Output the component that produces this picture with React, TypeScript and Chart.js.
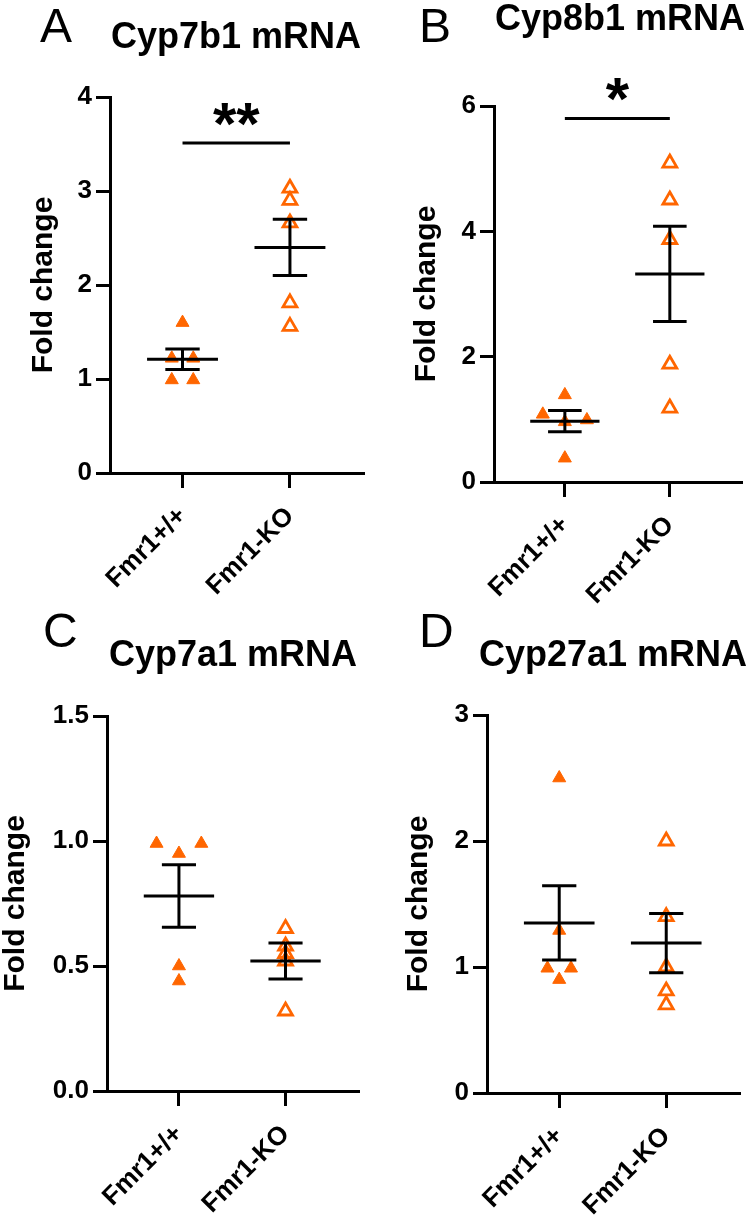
import React, { useEffect, useRef } from 'react';
import { Chart, registerables } from 'chart.js';

Chart.register(...registerables);

const FONT = "'Liberation Sans', Arial, Helvetica, sans-serif";
const ORANGE = '#FF6600';

// ---------- data ----------
const groups = ['Fmr1+/+', 'Fmr1-KO'];
const yAxisLabel = 'Fold change';
const panelLetters = ['A', 'B', 'C', 'D'];
const panelTitles = ['Cyp7b1 mRNA', 'Cyp8b1 mRNA', 'Cyp7a1 mRNA', 'Cyp27a1 mRNA'];

// A: Cyp7b1
const cyp7b1WT = [1.6, 1.22, 1.22, 0.99, 0.99];
const cyp7b1WTJitter = [0, -0.1, 0.1, -0.1, 0.1];
const cyp7b1KO = [3.03, 2.9, 2.66, 1.81, 1.56];
const cyp7b1Mean = [1.21, 2.4];
const cyp7b1Sem = [0.11, 0.3];

// B: Cyp8b1
const cyp8b1WT = [1.39, 1.08, 0.99, 0.96, 0.38];
const cyp8b1WTJitter = [0, -0.21, 0.21, 0, 0];
const cyp8b1KO = [5.09, 4.5, 3.87, 1.88, 1.18];
const cyp8b1Mean = [0.97, 3.32];
const cyp8b1Sem = [0.17, 0.76];

// C: Cyp7a1
const cyp7a1WT = [0.99, 0.95, 0.99, 0.5, 0.44];
const cyp7a1WTJitter = [-0.21, 0, 0.21, 0, 0];
const cyp7a1KO = [0.65, 0.58, 0.55, 0.52, 0.32];
const cyp7a1Mean = [0.78, 0.52];
const cyp7a1Sem = [0.125, 0.072];

// D: Cyp27a1
const cyp27a1WT = [2.5, 1.29, 0.99, 0.99, 0.9];
const cyp27a1WTJitter = [0, 0, -0.11, 0.11, 0];
const cyp27a1KO = [2.0, 1.4, 1.0, 0.81, 0.7];
const cyp27a1Mean = [1.35, 1.19];
const cyp27a1Sem = [0.295, 0.235];

const yMaxes = [4, 6, 1.5, 3];
const ySteps = [1, 2, 0.5, 1];
const yDecimals = [0, 0, 1, 0];
const sigLevels = [3.51, 5.8, null, null];
const sigMarks = ['**', '*', '', ''];

// ---------- layout (pixels, per panel) ----------
const PANEL_W = 376;
const PANEL_H = 611;
const layouts = [
  { left: 0, top: 0, axisX: 110, plotTop: 97, plotBottom: 473, plotRight: 363, yTitleX: 44, titleX: 236, titleY: 48, letterX: 40, letterY: 42 },
  { left: 376, top: 0, axisX: 118, plotTop: 106, plotBottom: 482, plotRight: 371, yTitleX: 51, titleX: 244, titleY: 30, letterX: 43, letterY: 42 },
  { left: 0, top: 611, axisX: 107, plotTop: 105, plotBottom: 480, plotRight: 358, yTitleX: 16, titleX: 233, titleY: 55, letterX: 43, letterY: 36 },
  { left: 376, top: 611, axisX: 111, plotTop: 104, plotBottom: 482, plotRight: 363, yTitleX: 43, titleX: 237, titleY: 55, letterX: 43, letterY: 36 },
];
const X_MIN = -0.675;
const X_MAX = 1.68;
const MEAN_HALF = 0.33;
const CAP_HALF = 0.16;

const panels = [
  { wt: cyp7b1WT, jit: cyp7b1WTJitter, ko: cyp7b1KO, mean: cyp7b1Mean, sem: cyp7b1Sem },
  { wt: cyp8b1WT, jit: cyp8b1WTJitter, ko: cyp8b1KO, mean: cyp8b1Mean, sem: cyp8b1Sem },
  { wt: cyp7a1WT, jit: cyp7a1WTJitter, ko: cyp7a1KO, mean: cyp7a1Mean, sem: cyp7a1Sem },
  { wt: cyp27a1WT, jit: cyp27a1WTJitter, ko: cyp27a1KO, mean: cyp27a1Mean, sem: cyp27a1Sem },
];

const overlayPlugin = {
  id: 'overlay',
  afterDatasetsDraw(chart: any, _args: any, opts: any) {
    const { ctx } = chart;
    const x = chart.scales.x;
    const y = chart.scales.y;
    const line = (x1: number, y1: number, x2: number, y2: number) => {
      ctx.beginPath();
      ctx.moveTo(x1, y1);
      ctx.lineTo(x2, y2);
      ctx.stroke();
    };
    ctx.save();
    ctx.strokeStyle = '#000';
    ctx.lineWidth = 3;
    ctx.lineCap = 'butt';
    opts.mean.forEach((m: number, i: number) => {
      const cx = x.getPixelForValue(i);
      const half = x.getPixelForValue(i + MEAN_HALF) - cx;
      const cap = x.getPixelForValue(i + CAP_HALF) - cx;
      const ym = y.getPixelForValue(m);
      const yh = y.getPixelForValue(m + opts.sem[i]);
      const yl = y.getPixelForValue(m - opts.sem[i]);
      line(cx - half, ym, cx + half, ym);
      line(cx - cap, yh, cx + cap, yh);
      line(cx - cap, yl, cx + cap, yl);
      line(cx, yh, cx, yl);
    });
    if (opts.sig != null) {
      const ys = y.getPixelForValue(opts.sig);
      const x0 = x.getPixelForValue(0);
      const x1 = x.getPixelForValue(1);
      line(x0, ys, x1, ys);
      ctx.font = `bold 60px ${FONT}`;
      ctx.fillStyle = '#000';
      ctx.textAlign = 'center';
      ctx.textBaseline = 'alphabetic';
      const mt = ctx.measureText(opts.mark);
      const inkMid = (mt.actualBoundingBoxAscent - mt.actualBoundingBoxDescent) / 2;
      ctx.fillText(opts.mark, (x0 + x1) / 2, ys - 29 + inkMid);
    }
    ctx.restore();
  },
  afterDraw(chart: any, _args: any, opts: any) {
    const { ctx } = chart;
    ctx.save();
    ctx.fillStyle = '#000';
    ctx.textBaseline = 'alphabetic';
    ctx.textAlign = 'center';
    ctx.font = `bold 36px ${FONT}`;
    ctx.fillText(opts.title, opts.titleX, opts.titleY);
    ctx.textAlign = 'left';
    ctx.font = `48px ${FONT}`;
    ctx.fillText(opts.letter, opts.letterX, opts.letterY);
    ctx.restore();
  },
};

function Panel({ idx }: { idx: number }) {
  const ref = useRef<HTMLCanvasElement | null>(null);
  useEffect(() => {
    const L = layouts[idx];
    const P = panels[idx];
    const tickFont = { family: FONT, size: 26, weight: 'bold' as const };
    const chart = new Chart(ref.current as HTMLCanvasElement, {
      type: 'scatter',
      data: {
        datasets: [
          {
            label: groups[0],
            data: P.wt.map((v, i) => ({ x: 0 + P.jit[i], y: v })),
            pointStyle: 'triangle',
            pointRadius: 7.5,
            backgroundColor: ORANGE,
            borderColor: ORANGE,
            borderWidth: 1,
          },
          {
            label: groups[1],
            data: P.ko.map((v) => ({ x: 1, y: v })),
            pointStyle: 'triangle',
            pointRadius: 8,
            backgroundColor: 'rgba(0,0,0,0)',
            borderColor: ORANGE,
            borderWidth: 2.8,
          },
        ],
      },
      options: {
        animation: false,
        responsive: false,
        devicePixelRatio: 1,
        events: [],
        layout: { padding: { left: 0, top: L.plotTop, right: PANEL_W - L.plotRight, bottom: 0 } },
        plugins: {
          legend: { display: false },
          tooltip: { enabled: false },
          overlay: {
            mean: P.mean,
            sem: P.sem,
            sig: sigLevels[idx],
            mark: sigMarks[idx],
            title: panelTitles[idx],
            letter: panelLetters[idx],
            titleX: L.titleX,
            titleY: L.titleY,
            letterX: L.letterX,
            letterY: L.letterY,
          },
        } as any,
        scales: {
          x: {
            type: 'linear',
            min: X_MIN,
            max: X_MAX,
            afterFit: (s: any) => {
              s.height = PANEL_H - L.plotBottom;
            },
            afterBuildTicks: (s: any) => {
              s.ticks = [{ value: 0 }, { value: 1 }];
            },
            ticks: {
              autoSkip: false,
              maxRotation: 45,
              minRotation: 45,
              padding: 13,
              color: '#000',
              font: tickFont,
              callback: (v: any) => groups[Math.round(Number(v))] ?? '',
            },
            grid: { display: true, drawOnChartArea: false, drawTicks: true, tickLength: 15, color: '#000', lineWidth: 3 },
            border: { display: true, color: '#000', width: 3 },
          },
          y: {
            type: 'linear',
            min: 0,
            max: yMaxes[idx],
            afterFit: (s: any) => {
              s.width = L.axisX;
            },
            ticks: {
              stepSize: ySteps[idx],
              padding: 4,
              color: '#000',
              font: tickFont,
              callback: (v: any) => Number(v).toFixed(yDecimals[idx]),
            },
            grid: { display: true, drawOnChartArea: false, drawTicks: true, tickLength: 14, color: '#000', lineWidth: 3 },
            border: { display: true, color: '#000', width: 3 },
            title: {
              display: true,
              text: yAxisLabel,
              color: '#000',
              font: { family: FONT, size: 30, weight: 'bold' },
              padding: { top: L.yTitleX - 18, bottom: 0 },
            },
          },
        },
      },
      plugins: [overlayPlugin as any],
    });
    return () => chart.destroy();
  }, [idx]);
  const L = layouts[idx];
  return (
    <canvas
      ref={ref}
      width={PANEL_W}
      height={PANEL_H}
      style={{ position: 'absolute', left: L.left, top: L.top, width: PANEL_W, height: PANEL_H }}
    />
  );
}

export default function App() {
  return (
    <div style={{ position: 'absolute', left: 0, top: 0, width: 752, height: 1222, background: '#fff' }}>
      {[0, 1, 2, 3].map((i) => (
        <Panel key={i} idx={i} />
      ))}
    </div>
  );
}
